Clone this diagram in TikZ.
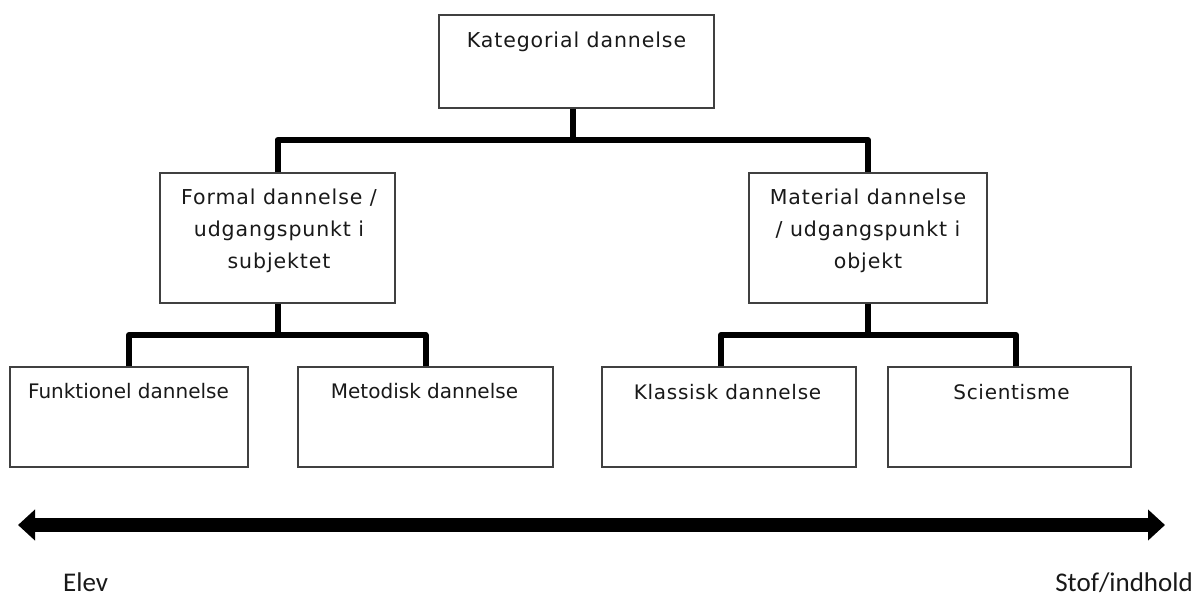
\documentclass[tikz,border=0pt]{standalone}
\usepackage{fontspec}
\setmainfont{DejaVu Sans}
\newfontfamily\widefnt[LetterSpace=4.4]{DejaVu Sans}
\newfontfamily\widesmall[LetterSpace=3.6]{DejaVu Sans}
\newfontfamily\calfnt{Carlito}
\usetikzlibrary{arrows.meta}
\begin{document}
\begin{tikzpicture}[x=1pt,y=-1pt,
  box/.style={draw=black!75, line width=1.5pt, fill=white, inner sep=0pt},
  conn/.style={line width=6pt, line join=round},
  lbl/.style={inner sep=0pt, text=black!90},
  monotxt/.style={lbl, font=\widefnt\fontsize{20.5}{32}\selectfont},
  monosmall/.style={lbl, font=\widesmall\fontsize{20}{24}\selectfont},
  sanstxt/.style={lbl, font=\fontsize{20}{24}\selectfont},
  endtxt/.style={lbl, font=\calfnt\fontsize{27}{32}\selectfont}]
\useasboundingbox (0,0) rectangle (1198,597);
\fill[white] (0,0) rectangle (1198,597);

% boxes
\node[box, minimum width=275pt, minimum height=93pt] (top) at (576.5,61.5) {};
\node[box, minimum width=235pt, minimum height=130pt] (ml) at (277.5,238) {};
\node[box, minimum width=238pt, minimum height=130pt] (mr) at (868,238) {};
\node[box, minimum width=238pt, minimum height=100pt] (fu) at (129,417) {};
\node[box, minimum width=255pt, minimum height=100pt] (me) at (425.5,417) {};
\node[box, minimum width=254pt, minimum height=100pt] (kl) at (729,417) {};
\node[box, minimum width=243pt, minimum height=100pt] (sc) at (1009.5,417) {};

% texts
\node[monotxt, anchor=base] (toptxt) at (576.5,47) {Kategorial dannelse};
\node[monotxt, anchor=north, align=center] (mltxt) at (279,188.5)
  {Formal dannelse /\\udgangspunkt i\\subjektet};
\node[monotxt, anchor=north, align=center] (mrtxt) at (868,188.5)
  {Material dannelse\\/ udgangspunkt i\\objekt};
\node[sanstxt, anchor=base] (futxt) at (128.5,398) {Funktionel dannelse};
\node[sanstxt, anchor=base] (metxt) at (424.5,398) {Metodisk dannelse};
\node[monosmall, anchor=base] (kltxt) at (727.5,399) {Klassisk dannelse};
\node[monosmall, anchor=base] (sctxt) at (1011.5,399) {Scientisme};

% connectors
\coordinate (jt) at (573,140);
\coordinate (jl) at (277.5,335);
\coordinate (jr) at (868,335);
\draw[conn] (top.south -| jt) -- (jt);
\draw[conn] (ml.north) -- (ml.north |- jt) -- (mr.north |- jt) -- (mr.north);
\draw[conn] (ml.south) -- (jl);
\draw[conn] (fu.north) -- (fu.north |- jl) -- (me.north |- jl) -- (me.north);
\draw[conn] (mr.south) -- (jr);
\coordinate (klc) at (721,367);
\coordinate (scc) at (1016,367);
\draw[conn] (kl.north -| klc) -- (klc |- jr) -- (scc |- jr) -- (sc.north -| scc);

% axis arrow
\coordinate (al) at (18,525);
\coordinate (ar) at (1165,525);
\draw[line width=14pt, {Triangle[length=17pt,width=30pt]}-{Triangle[length=17pt,width=30pt]}] (al) -- (ar);
\node[endtxt, anchor=base west] (elev) at (63,591) {Elev};
\node[endtxt, anchor=base east] (stof) at (1193,591) {Stof/indhold};
\end{tikzpicture}
\end{document}
